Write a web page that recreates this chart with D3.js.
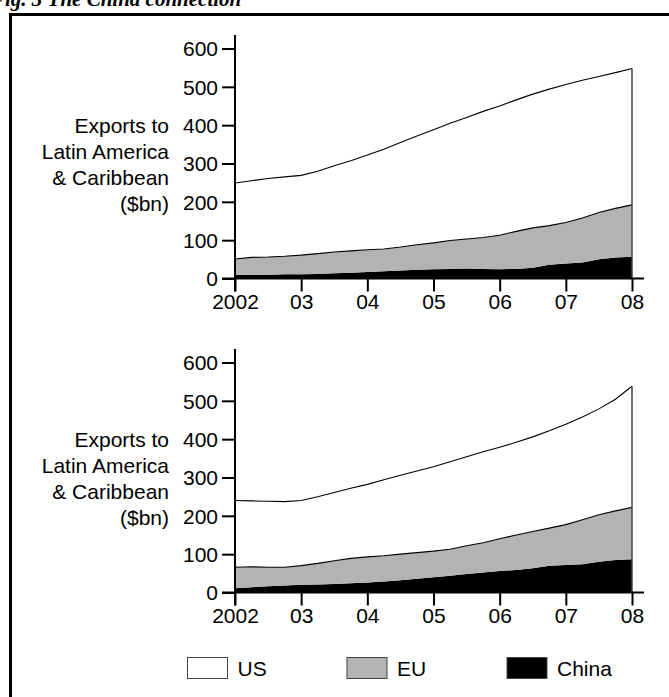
<!DOCTYPE html>
<html><head><meta charset="utf-8">
<script src="https://cdn.jsdelivr.net/npm/d3@7"></script>
<style>
html,body{margin:0;padding:0;background:#fff;}
svg{display:block;}
text{font-family:"Liberation Sans",Arial,sans-serif;fill:#000;}
</style></head>
<body>
<script>
// ---- data (quarterly, 2002 Q1 .. 2008 Q1) ----
const years = d3.range(25).map(q => 2002 + q / 4);
const tickYears = [2002, 2003, 2004, 2005, 2006, 2007, 2008];
const tickLabels = ["2002", "03", "04", "05", "06", "07", "08"];
const yTicks = [0, 100, 200, 300, 400, 500, 600];
const seriesNames = ["China", "EU", "US"];
const legendNames = ["US", "EU", "China"];
const yLabelLines = ["Exports to", "Latin America", "& Caribbean", "($bn)"];
const titleText = "Fig. 3 The China connection";

// panel 1
const chinaA = [9,10,10,11,11,12,14,15,17,19,21,23,24,25,26,25,24,25,28,36,39,42,50,55,57];
const euA    = [42,45,46,47,50,53,55,57,58,58,61,65,69,74,77,82,89,98,104,102,107,116,122,128,135];
const usA    = [198,200,205,207,208,215,225,235,247,260,273,284,295,306,317,329,337,343,349,356,360,359,355,354,356];
// panel 2
const chinaB = [11,14,16,18,20,21,22,24,26,29,32,36,40,44,48,52,56,59,63,70,72,74,80,85,87];
const euB    = [55,53,50,48,50,55,61,65,67,67,68,68,68,69,74,78,84,91,96,98,105,116,123,128,135];
const usB    = [174,172,172,171,170,174,178,183,189,198,206,213,220,228,232,237,239,242,247,254,262,268,276,291,316];

const colors = {US: "#ffffff", EU: "#b3b3b3", China: "#000000"};

const W = 669, H = 697;
const FS = "21px";
const svg = d3.select("body").append("svg").attr("width", W).attr("height", H);

// title (partly cut off at the top, as in the reference)
svg.append("text").attr("x", -9).attr("y", 6)
  .style("font-family", '"Liberation Serif","Times New Roman",serif')
  .style("font-weight", "bold").style("font-style", "italic")
  .style("font-size", "21px").text(titleText);

// frame
svg.append("rect").attr("x", 10.5).attr("y", 14.5).attr("width", 700).attr("height", 720)
  .attr("fill", "none").attr("stroke", "#000").attr("stroke-width", 3);

const x = d3.scaleLinear().domain([2002, 2008]).range([235, 632]);

function panel(baseY, axisTop, china, eu, us) {
  const y = d3.scaleLinear().domain([0, 600]).range([baseY, baseY - 230]);
  const rows = years.map((t, i) => ({t, China: china[i], EU: eu[i], US: us[i]}));
  const stack = d3.stack().keys(seriesNames)(rows);
  const g = svg.append("g");
  const area = d3.area().x(d => x(d.data.t)).y0(d => y(d[0])).y1(d => y(d[1]));
  const top = d3.line().x(d => x(d.data.t)).y(d => y(d[1]));
  stack.forEach(s => {
    g.append("path").datum(s).attr("d", area).attr("fill", colors[s.key]).attr("stroke", "none");
  });
  stack.forEach(s => {
    if (s.key !== "China")
      g.append("path").datum(s).attr("d", top).attr("fill", "none").attr("stroke", "#000").attr("stroke-width", 1.1);
  });
  const last = stack[2][stack[2].length - 1];
  g.append("line").attr("x1", x(2008)).attr("x2", x(2008)).attr("y1", y(last[1])).attr("y2", y(0))
    .attr("stroke", "#444").attr("stroke-width", 1.5);

  // y axis
  const ya = g.append("g").attr("transform", `translate(${x(2002)},0)`)
    .call(d3.axisLeft(y).tickValues(yTicks).tickSize(13).tickPadding(4).tickFormat(d3.format("d")));
  ya.select(".domain").remove();
  ya.selectAll(".tick line").attr("stroke-width", 2);
  ya.selectAll(".tick text").style("font-size", FS).attr("dy", "0.35em");
  g.append("line").attr("x1", x(2002)).attr("x2", x(2002)).attr("y1", axisTop).attr("y2", baseY + 13)
    .attr("stroke", "#000").attr("stroke-width", 2);

  // x axis
  const xa = g.append("g").attr("transform", `translate(0,${baseY})`)
    .call(d3.axisBottom(x).tickValues(tickYears).tickSize(13).tickPadding(3)
      .tickFormat((d, i) => tickLabels[i]));
  xa.select(".domain").remove();
  xa.selectAll(".tick line").attr("stroke-width", 2);
  xa.selectAll(".tick text").style("font-size", FS);
  g.append("line").attr("x1", x(2002) - 13).attr("x2", 644).attr("y1", baseY).attr("y2", baseY)
    .attr("stroke", "#000").attr("stroke-width", 2);

  // y label
  const lab = g.append("text").attr("text-anchor", "end").style("font-size", FS);
  yLabelLines.forEach((l, i) => {
    lab.append("tspan").attr("x", 169).attr("y", y(400) + i * 26).attr("dy", "0.35em").text(l);
  });
}

panel(278.5, 35, chinaA, euA, usA);
panel(592.5, 349, chinaB, euB, usB);

// legend
const lg = svg.append("g");
const lx = [187.5, 347, 507];
legendNames.forEach((n, i) => {
  lg.append("rect").attr("x", lx[i]).attr("y", 657.5).attr("width", 40).attr("height", 21)
    .attr("fill", colors[n]).attr("stroke", "#444").attr("stroke-width", 1);
  lg.append("text").attr("x", lx[i] + 50).attr("y", 669).attr("dy", "0.35em")
    .style("font-size", FS).text(n);
});
</script>
</body></html>
